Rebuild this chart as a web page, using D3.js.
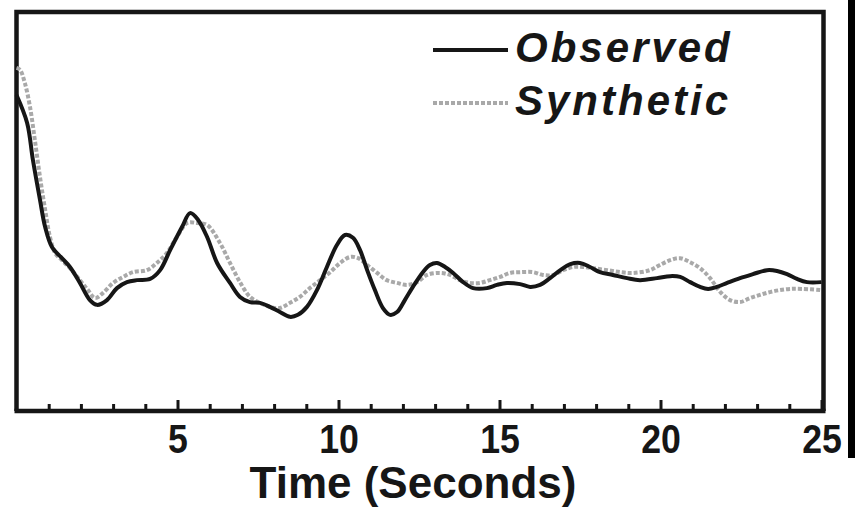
<!DOCTYPE html>
<html><head><meta charset="utf-8">
<script src="https://cdn.jsdelivr.net/npm/d3@7"></script>
<style>html,body{margin:0;padding:0;background:#fff;}svg{display:block;}</style>
</head><body><svg id="c" width="855" height="508"></svg>
<script>
// Time (s) and amplitude readings (arbitrary units, 0 = bottom, 100 = top of frame)
const obsTime = [0,0.33,0.51,0.73,0.89,1.10,1.41,1.66,1.97,2.28,2.50,2.81,3.12,3.43,3.74,4.15,4.46,4.77,5.14,5.39,5.64,5.92,6.23,6.63,6.94,7.25,7.56,7.87,8.18,8.49,8.74,9.02,9.33,9.64,9.95,10.20,10.45,10.67,10.89,11.13,11.38,11.60,11.82,12.06,12.31,12.62,12.84,13.06,13.31,13.56,13.87,14.18,14.61,14.92,15.23,15.64,15.95,16.26,16.57,16.89,17.20,17.50,17.81,18.12,18.52,18.96,19.36,19.89,20.30,20.61,20.92,21.23,21.48,21.75,22.07,22.47,22.87,23.31,23.62,23.93,24.24,24.55,25.0];
const obsValue = [79.2,72.2,62.9,52.9,46.1,41.1,38.3,36.1,32.1,27.8,26.6,27.8,30.8,32.3,32.8,33.1,35.3,40.3,46.1,49.6,47.9,43.6,37.1,32.1,28.6,27.3,27.1,26.1,24.8,23.6,24.1,26.1,30.3,36.1,41.6,44.1,43.4,40.3,35.3,30.3,25.8,24.1,24.8,27.8,31.1,34.8,36.6,37.1,36.1,34.6,32.3,30.8,30.8,31.6,32.1,31.8,31.1,31.6,33.3,35.3,36.8,37.1,36.1,34.8,34.1,33.3,32.8,33.3,33.8,33.6,32.3,31.1,30.6,31.1,32.1,33.3,34.3,35.3,35.1,34.3,33.1,32.3,32.3];
const synTime = [0,0.11,0.26,0.42,0.57,0.73,0.89,1.04,1.20,1.41,1.66,1.97,2.22,2.44,2.69,3.00,3.31,3.62,4.05,4.36,4.67,4.98,5.30,5.61,5.92,6.32,6.63,6.94,7.25,7.56,7.87,8.18,8.49,8.80,9.11,9.43,9.74,10.05,10.36,10.61,10.89,11.20,11.50,11.82,12.13,12.44,12.75,13.15,13.46,13.77,14.08,14.39,14.70,15.02,15.33,15.64,16.04,16.35,16.67,16.98,17.29,17.60,17.91,18.34,18.75,19.15,19.67,19.98,20.30,20.61,20.92,21.23,21.54,21.86,22.16,22.47,22.78,23.09,23.40,23.71,24.02,24.42,25.0];
const synValue = [86.0,85.5,82.2,76.2,67.9,58.6,50.4,43.6,39.6,37.8,35.8,32.8,30.3,28.3,29.6,32.1,33.6,34.8,35.3,37.1,39.6,43.6,47.1,47.1,46.6,42.1,37.1,32.3,28.6,27.1,26.1,25.8,27.1,28.6,30.8,32.8,34.8,37.1,38.6,38.3,36.6,34.6,32.8,32.1,31.6,32.3,34.1,34.6,34.1,32.8,32.1,32.1,32.8,33.6,34.6,34.8,34.8,34.1,34.1,35.3,36.1,36.1,35.8,35.3,34.8,34.6,35.3,36.6,37.8,38.3,37.3,35.8,33.3,29.8,27.8,27.3,28.3,29.1,29.8,30.3,30.6,30.6,30.3];
const majorTicks = [5,10,15,20,25];
const minorTicks = [1,2,3,4,6,7,8,9,11,12,13,14,16,17,18,19,21,22,23,24];
const seriesNames = ["Observed","Synthetic"];
const xTitle = "Time (Seconds)";

const svg = d3.select("#c");
const L = 16.5, R = 821.5, T = 12, B = 411;
const x = d3.scaleLinear().domain([0,25]).range([L,R]);
const y = d3.scaleLinear().domain([0,100]).range([B,T]);
const ink = "#161616";
const font = "Liberation Sans, Arial, sans-serif";

// frame
svg.append("path").attr("d", `M${L},${B}V${T}H${R+2}V${B}`)
  .attr("fill","none").attr("stroke",ink).attr("stroke-width",4.5);

// axis
const gMinor = svg.append("g").attr("transform",`translate(0,${B})`)
  .call(d3.axisBottom(x).tickValues(minorTicks).tickSizeInner(-7).tickSizeOuter(0).tickFormat(""));
gMinor.selectAll("line").attr("stroke",ink).attr("stroke-width",3);
gMinor.select(".domain").remove();
const gMajor = svg.append("g").attr("transform",`translate(0,${B})`)
  .call(d3.axisBottom(x).tickValues(majorTicks).tickSizeInner(-11).tickSizeOuter(0).tickPadding(13).tickFormat(d3.format("d")));
gMajor.selectAll("line").attr("stroke",ink).attr("stroke-width",3);
gMajor.select(".domain").remove();
gMajor.selectAll("text").attr("font-family",font)
  .attr("font-weight","bold").attr("font-size",41).attr("fill",ink).attr("dy","0.71em")
  .attr("transform","scale(0.87,1)");
svg.append("line").attr("x1",L-2).attr("x2",R+4).attr("y1",B).attr("y2",B)
  .attr("stroke",ink).attr("stroke-width",4.5);

svg.append("text").attr("x",413).attr("y",498).attr("text-anchor","middle")
  .attr("font-family",font).attr("font-weight","bold")
  .attr("font-size",44).attr("fill",ink).text(xTitle);

const line = d3.line().x(d=>x(d[0])).y(d=>y(d[1])).curve(d3.curveCatmullRom.alpha(0.5));
const syn = synTime.map((t,i)=>[t,synValue[i]]);
const obs = obsTime.map((t,i)=>[t,obsValue[i]]);
svg.append("path").attr("d",line(syn)).attr("fill","none").attr("stroke","#a9a9a9")
  .attr("stroke-width",4).attr("stroke-dasharray","4,2");
svg.append("path").attr("d",line(obs)).attr("fill","none").attr("stroke",ink)
  .attr("stroke-width",4).attr("stroke-linejoin","round");

// legend
const lg = svg.append("g");
lg.append("line").attr("x1",433).attr("x2",508).attr("y1",50).attr("y2",50)
  .attr("stroke",ink).attr("stroke-width",4);
lg.append("line").attr("x1",433).attr("x2",508).attr("y1",103).attr("y2",103)
  .attr("stroke","#a9a9a9").attr("stroke-width",4).attr("stroke-dasharray","4,2");
[[62,seriesNames[0]],[115,seriesNames[1]]].forEach(([yy,t])=>{
  lg.append("text").attr("x",515).attr("y",yy)
    .attr("font-family",font).attr("font-weight","bold")
    .attr("font-style","italic").attr("font-size",42).attr("letter-spacing",3)
    .attr("fill",ink).text(t);
});

// dark strip at right edge
svg.append("rect").attr("x",848).attr("y",0).attr("width",7).attr("height",458).attr("fill","#000");
</script></body></html>
